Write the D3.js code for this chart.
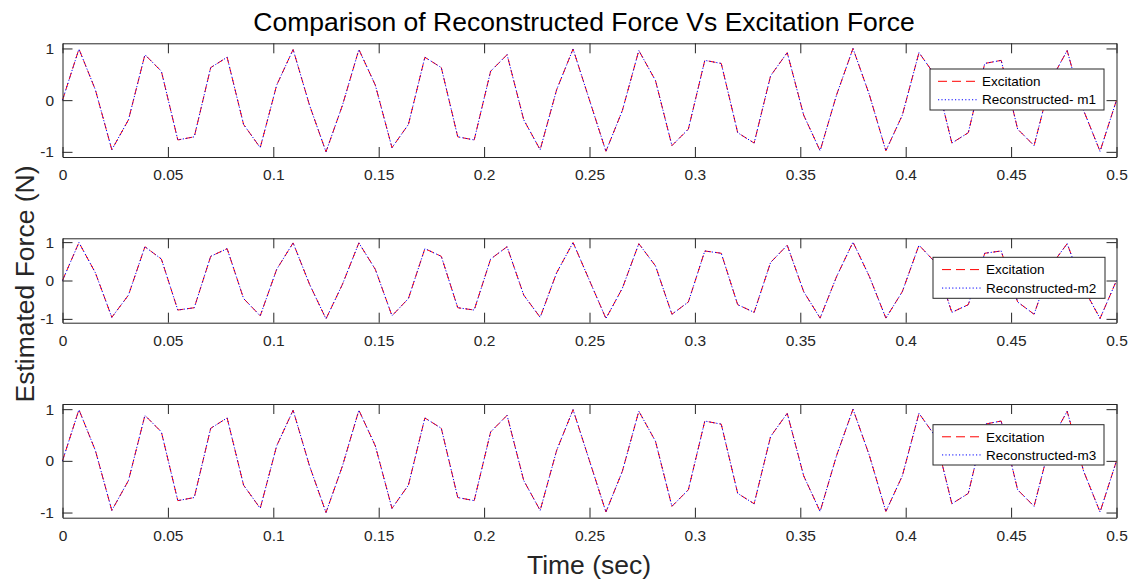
<!DOCTYPE html>
<html>
<head>
<meta charset="utf-8">
<script src="https://cdn.jsdelivr.net/npm/d3@7"></script>
<style>
  body { margin: 0; background: #fff; }
  svg { font-family: "Liberation Sans", Arial, Helvetica, sans-serif; }
</style>
</head>
<body>
<div id="chart"></div>
<script>
// sample times (sec)
const timeSec = [0, 0.0078, 0.0156, 0.0234, 0.0313, 0.0391, 0.0469, 0.0547, 0.0625, 0.0703,
  0.0781, 0.0859, 0.0938, 0.1016, 0.1094, 0.1172, 0.125, 0.1328, 0.1406, 0.1484,
  0.1563, 0.1641, 0.1719, 0.1797, 0.1875, 0.1953, 0.2031, 0.2109, 0.2188, 0.2266,
  0.2344, 0.2422, 0.25, 0.2578, 0.2656, 0.2734, 0.2813, 0.2891, 0.2969, 0.3047,
  0.3125, 0.3203, 0.3281, 0.3359, 0.3438, 0.3516, 0.3594, 0.3672, 0.375, 0.3828,
  0.3906, 0.3984, 0.4063, 0.4141, 0.4219, 0.4297, 0.4375, 0.4453, 0.4531, 0.4609,
  0.4688, 0.4766, 0.4844, 0.4922, 0.5];

// excitation force (N)
const excitation = [0, 0.99, 0.20, -0.96, -0.38, 0.88, 0.56, -0.77, -0.71, 0.63,
  0.83, -0.47, -0.92, 0.29, 0.98, -0.10, -1.00, -0.10, 0.98, 0.29,
  -0.92, -0.47, 0.83, 0.63, -0.71, -0.77, 0.56, 0.88, -0.38, -0.96,
  0.20, 0.99, 0.00, -0.99, -0.20, 0.96, 0.38, -0.88, -0.56, 0.77,
  0.71, -0.63, -0.83, 0.47, 0.92, -0.29, -0.98, 0.10, 1.00, 0.10,
  -0.98, -0.29, 0.92, 0.47, -0.83, -0.63, 0.71, 0.77, -0.56, -0.88,
  0.38, 0.96, -0.20, -0.99, 0.00];

// reconstructed forces overlap the excitation everywhere in the picture
const reconM1 = [0, 0.99, 0.20, -0.96, -0.38, 0.88, 0.56, -0.77, -0.71, 0.63,
  0.83, -0.47, -0.92, 0.29, 0.98, -0.10, -1.00, -0.10, 0.98, 0.29,
  -0.92, -0.47, 0.83, 0.63, -0.71, -0.77, 0.56, 0.88, -0.38, -0.96,
  0.20, 0.99, 0.00, -0.99, -0.20, 0.96, 0.38, -0.88, -0.56, 0.77,
  0.71, -0.63, -0.83, 0.47, 0.92, -0.29, -0.98, 0.10, 1.00, 0.10,
  -0.98, -0.29, 0.92, 0.47, -0.83, -0.63, 0.71, 0.77, -0.56, -0.88,
  0.38, 0.96, -0.20, -0.99, 0.00];
const reconM2 = reconM1.slice();
const reconM3 = reconM1.slice();

const legendNames = ["Reconstructed- m1", "Reconstructed-m2", "Reconstructed-m3"];
const xTicks = [0, 0.05, 0.1, 0.15, 0.2, 0.25, 0.3, 0.35, 0.4, 0.45, 0.5];
const yTicks = [-1, 0, 1];

const width = 1136;
const height = 581;
const axisColor = "#262626";

const panels = [
  {top: 43.3, bottom: 157, recon: reconM1, name: legendNames[0],
   legend: {x: 930, y: 69, w: 174, h: 41}},
  {top: 238.3, bottom: 322.7, recon: reconM2, name: legendNames[1],
   legend: {x: 933, y: 257.3, w: 172, h: 41}},
  {top: 404, bottom: 517.7, recon: reconM3, name: legendNames[2],
   legend: {x: 933, y: 424.7, w: 171, h: 40.3}},
];

const svg = d3.select("#chart")
  .append("svg")
  .attr("width", width)
  .attr("height", height);

const xScale = d3.scaleLinear().domain([0, 0.5]).range([62.5, 1116.5]);

panels.forEach((p, idx) => {
  const yScale = d3.scaleLinear().domain([-1.1, 1.1]).range([p.bottom, p.top]);
  const g = svg.append("g").attr("class", "panel-" + idx);

  // white plotting area
  g.append("rect")
    .attr("x", xScale(0)).attr("y", p.top)
    .attr("width", xScale(0.5) - xScale(0)).attr("height", p.bottom - p.top)
    .attr("fill", "#fff");

  const lineOf = (vals) => d3.line()
    .x((d, i) => xScale(timeSec[i]))
    .y((d) => yScale(d))(vals);

  g.append("path")
    .attr("d", lineOf(excitation))
    .attr("fill", "none")
    .attr("stroke", "#ff0000")
    .attr("stroke-width", 1)
    .attr("stroke-dasharray", "7,4");

  g.append("path")
    .attr("d", lineOf(p.recon))
    .attr("fill", "none")
    .attr("stroke", "#0000ff")
    .attr("stroke-width", 1)
    .attr("stroke-dasharray", "1.2,2.2");

  // axes: ticks inside, box on all sides (matlab style)
  const tickLen = 10;
  g.append("g")
    .attr("transform", `translate(0,${p.bottom})`)
    .call(d3.axisBottom(xScale).tickValues(xTicks).tickSizeInner(-tickLen).tickSizeOuter(0)
      .tickPadding(12).tickFormat(d3.format("")))
    .call(ax => ax.select(".domain").attr("stroke", axisColor))
    .call(ax => ax.selectAll(".tick line").attr("stroke", axisColor))
    .call(ax => ax.selectAll("text").attr("fill", axisColor).attr("font-size", 15.5)
      .attr("font-family", "Liberation Sans, Arial, sans-serif"));

  g.append("g")
    .attr("transform", `translate(0,${p.top})`)
    .call(d3.axisTop(xScale).tickValues(xTicks).tickSizeInner(-tickLen).tickSizeOuter(0).tickFormat(""))
    .call(ax => ax.select(".domain").attr("stroke", axisColor))
    .call(ax => ax.selectAll(".tick line").attr("stroke", axisColor));

  g.append("g")
    .attr("transform", `translate(${xScale(0)},0)`)
    .call(d3.axisLeft(yScale).tickValues(yTicks).tickSizeInner(-tickLen).tickSizeOuter(0)
      .tickPadding(8.5).tickFormat(d => d === -1 ? "-1" : String(d)))
    .call(ax => ax.select(".domain").attr("stroke", axisColor))
    .call(ax => ax.selectAll(".tick line").attr("stroke", axisColor))
    .call(ax => ax.selectAll("text").attr("fill", axisColor).attr("font-size", 15.5)
      .attr("font-family", "Liberation Sans, Arial, sans-serif"));

  g.append("g")
    .attr("transform", `translate(${xScale(0.5)},0)`)
    .call(d3.axisRight(yScale).tickValues(yTicks).tickSizeInner(-tickLen).tickSizeOuter(0).tickFormat(""))
    .call(ax => ax.select(".domain").attr("stroke", axisColor))
    .call(ax => ax.selectAll(".tick line").attr("stroke", axisColor));

  // legend
  const lg = g.append("g").attr("transform", `translate(${p.legend.x},${p.legend.y})`);
  lg.append("rect")
    .attr("width", p.legend.w).attr("height", p.legend.h)
    .attr("fill", "#fff").attr("stroke", axisColor).attr("stroke-width", 1);
  const rows = [
    {label: "Excitation", color: "#ff0000", dash: "9,5", cy: p.legend.h * 0.3},
    {label: p.name, color: "#0000ff", dash: "1.2,2.2", cy: p.legend.h * 0.75},
  ];
  const lx = idx === 0 ? 8 : 9;
  rows.forEach(r => {
    lg.append("line")
      .attr("x1", lx).attr("x2", lx + 40)
      .attr("y1", r.cy).attr("y2", r.cy)
      .attr("stroke", r.color).attr("stroke-width", 1)
      .attr("stroke-dasharray", r.dash);
    lg.append("text")
      .attr("x", lx + 44).attr("y", r.cy)
      .attr("dy", "0.35em")
      .attr("font-size", 13.5)
      .attr("fill", "#000")
      .text(r.label);
  });
});

// title and shared labels
svg.append("text")
  .attr("x", 584).attr("y", 31)
  .attr("text-anchor", "middle")
  .attr("font-size", 26.5)
  .attr("fill", "#000")
  .text("Comparison of Reconstructed Force Vs Excitation Force");

svg.append("text")
  .attr("x", 589).attr("y", 574)
  .attr("text-anchor", "middle")
  .attr("font-size", 26.5)
  .attr("fill", axisColor)
  .text("Time (sec)");

svg.append("text")
  .attr("transform", "translate(34,284) rotate(-90)")
  .attr("text-anchor", "middle")
  .attr("font-size", 26.5)
  .attr("fill", axisColor)
  .text("Estimated Force (N)");
</script>
</body>
</html>
